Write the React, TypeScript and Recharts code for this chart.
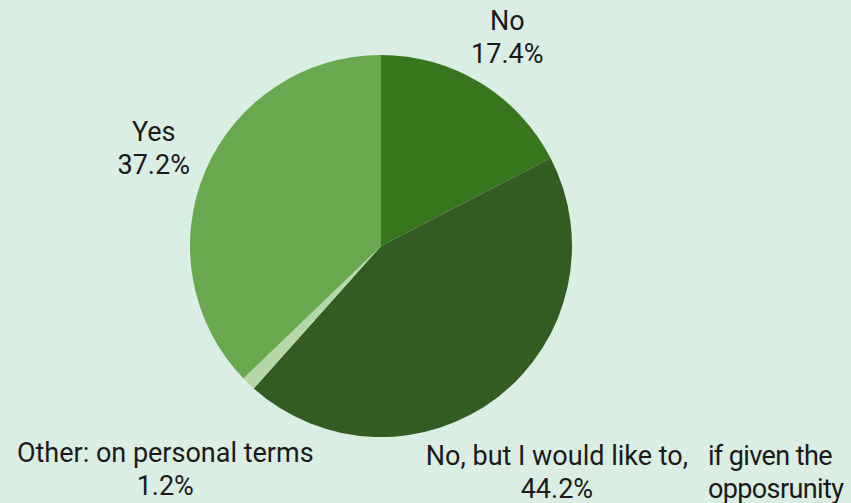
import { PieChart, Pie, Cell } from 'recharts';

const categories = ['No', 'No, but I would like to, if given the opposrunity', 'Other: on personal terms', 'Yes'];
const shares = [17.4, 44.2, 1.2, 37.2];
const colors = ['#38761d', '#345b22', '#b6d7a8', '#6aa84f'];

const data = categories.map((name, i) => ({ name, value: shares[i] }));

// how far past the rim each label sits
const labelGap: Record<string, number> = {
  'No': 52,
  'Yes': 56,
  'Other: on personal terms': 120,
  'No, but I would like to, if given the opposrunity': 96,
};

const RAD = Math.PI / 180;

const renderLabel = (props: any) => {
  const { cx, cy, midAngle, outerRadius, name, value } = props;
  const r = outerRadius + (labelGap[name] ?? 50);
  const x = cx + r * Math.cos(-midAngle * RAD);
  const y = cy + r * Math.sin(-midAngle * RAD);
  const cut = name.indexOf(', if');
  const main = cut > 0 ? name.slice(0, cut + 1) : name;
  const rest = cut > 0 ? name.slice(cut + 2).split(' the ') : null;
  const style = { fontFamily: 'Roboto', fontSize: 27, fill: '#1a1a1a' };
  const small = { ...style, letterSpacing: -0.6 };
  return (
    <g>
      <text x={x} y={y - 8} textAnchor="middle" style={style}>{main}</text>
      <text x={x} y={y + 25} textAnchor="middle" style={style}>{value.toFixed(1)}%</text>
      {rest && (
        <>
          <text x={x + 151} y={y - 8} textAnchor="start" style={small}>{rest[0] + ' the'}</text>
          <text x={x + 151} y={y + 25} textAnchor="start" style={small}>{rest[1]}</text>
        </>
      )}
    </g>
  );
};

const App = () => {
  return (
    <div style={{ position: 'absolute', left: 0, top: 0, width: 851, height: 503, background: '#daeee3' }}>
      <PieChart width={851} height={503} margin={{ top: 0, right: 0, bottom: 0, left: 0 }}>
        <Pie
          data={data}
          dataKey="value"
          nameKey="name"
          cx={381}
          cy={246}
          outerRadius={191}
          startAngle={90}
          endAngle={-270}
          stroke="none"
          label={renderLabel}
          labelLine={false}
          isAnimationActive={false}
        >
          {data.map((d, i) => (
            <Cell key={d.name} fill={colors[i]} />
          ))}
        </Pie>
      </PieChart>
    </div>
  );
};

export default App;
